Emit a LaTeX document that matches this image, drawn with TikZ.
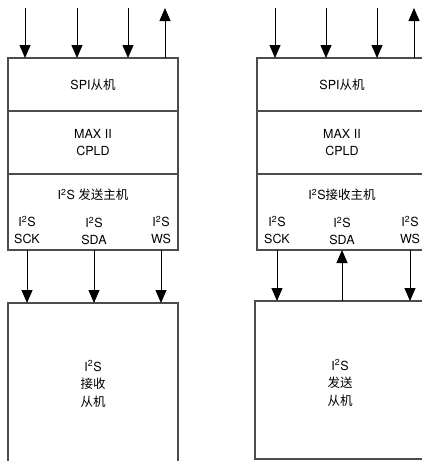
\documentclass[tikz,border=0pt]{standalone}
\usepackage{fontspec}
\setmainfont{TeX Gyre Heros}
\newfontfamily\cjk{Noto Sans CJK SC}
\usetikzlibrary{arrows.meta,positioning,calc}
\newcommand{\zh}[1]{{\cjk #1}}
\newcommand{\IIS}{I\textsuperscript{2}S}

\begin{document}
\begin{tikzpicture}[
    x=1pt, y=-1pt,
    blk/.style={
      rectangle, draw=black!70, line width=1.3pt,
      minimum width=170pt, inner sep=0pt, outer sep=0pt, anchor=north west,
      font=\fontsize{12.5}{17.5}\selectfont, align=center
    },
    txt/.style={
      inner sep=0pt, align=center,
      font=\fontsize{12.5}{17.5}\selectfont
    },
    sig/.style={
      -{Triangle[length=13pt,width=11pt]}, line width=1pt
    }
  ]
  \useasboundingbox (0,0) rectangle (422,461);
  \clip (0,0) rectangle (422,461);

  % --- Left: I2S transmit master ---
  \node[blk, minimum height=53pt] (spiL) at (8,58) {SPI\zh{从机}};
  \node[blk, minimum height=63pt] (cpldL) at (spiL.south west) {MAX II\\CPLD};
  \node[blk, minimum height=76pt] (mstL) at (cpldL.south west) {};
  \node[txt] (ttlL) at ([yshift=-21pt]mstL.north) {\IIS\ \zh{发送主机}};
  \node[txt] (sckL) at ([xshift=19pt,yshift=-56pt]mstL.north west) {\IIS\\SCK};
  \node[txt] (sdaL) at ([xshift=86pt,yshift=-57pt]mstL.north west) {\IIS\\SDA};
  \node[txt] (wsL) at ([xshift=153pt,yshift=-56pt]mstL.north west) {\IIS\\WS};
  \node[blk, minimum height=200pt] (slvL) at (8,303) {};
  \node[txt] at ([yshift=-81pt]slvL.north) {\IIS\\\zh{接收}\\\zh{从机}};

  \foreach \i/\dx in {1/17,2/69,3/120,4/157}
    \coordinate (inL\i) at ([xshift=\dx pt,yshift=50pt]spiL.north west);
  \foreach \i in {1,2,3}
    \draw[sig] (inL\i) -- (inL\i |- spiL.north);
  \draw[sig] (inL4 |- spiL.north) -- (inL4);

  \draw[sig] (sckL |- mstL.south) -- (sckL |- slvL.north);
  \draw[sig] (sdaL |- mstL.south) -- (sdaL |- slvL.north);
  \draw[sig] (wsL |- mstL.south) -- (wsL |- slvL.north);

  % --- Right: I2S receive master ---
  \node[blk, minimum height=53pt] (spiR) at (257,58) {SPI\zh{从机}};
  \node[blk, minimum height=63pt] (cpldR) at (spiR.south west) {MAX II\\CPLD};
  \node[blk, minimum height=76pt] (mstR) at (cpldR.south west) {};
  \node[txt] (ttlR) at ([yshift=-21pt]mstR.north) {\IIS\zh{接收主机}};
  \node[txt] (sckR) at ([xshift=20pt,yshift=-56pt]mstR.north west) {\IIS\\SCK};
  \node[txt] (sdaR) at ([xshift=85pt,yshift=-57pt]mstR.north west) {\IIS\\SDA};
  \node[txt] (wsR) at ([xshift=153pt,yshift=-56pt]mstR.north west) {\IIS\\WS};
  \node[blk, minimum height=158pt] (slvR) at (255,301) {};
  \node[txt] at ([yshift=-82pt]slvR.north) {\IIS\\\zh{发送}\\\zh{从机}};

  \foreach \i/\dx in {1/18,2/69,3/120,4/157}
    \coordinate (inR\i) at ([xshift=\dx pt,yshift=50pt]spiR.north west);
  \foreach \i in {1,2,3}
    \draw[sig] (inR\i) -- (inR\i |- spiR.north);
  \draw[sig] (inR4 |- spiR.north) -- (inR4);

  \draw[sig] (sckR |- mstR.south) -- (sckR |- slvR.north);
  \draw[sig] (sdaR |- slvR.north) -- (sdaR |- mstR.south);
  \draw[sig] (wsR |- mstR.south) -- (wsR |- slvR.north);
\end{tikzpicture}
\end{document}
